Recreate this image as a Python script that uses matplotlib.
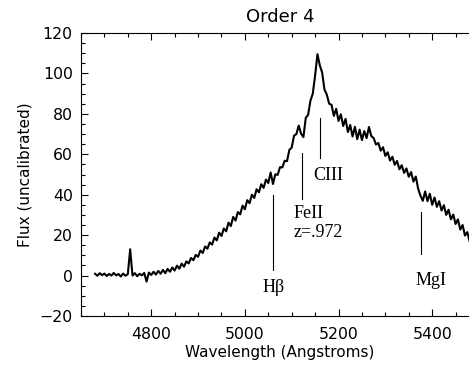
import numpy as np
import matplotlib
matplotlib.use('Agg')
import matplotlib.pyplot as plt

# spectrum, every 5 A
wavelength = np.arange(4680, 5481, 5)
flux = [
    0.9, -0.1, 1.2, 0.2, 1.0, -0.2, 0.8, 0.0, 1.3, 0.1,
    0.8, -0.5, 1.0, -0.1, 0.7, 13.0, 0.0, 1.2, -0.3, 0.9,
    0.1, 1.3, -3.0, 1.5, 0.3, 1.9, 0.5, 2.3, 0.9, 2.8,
    1.2, 3.3, 1.9, 4.0, 2.5, 4.9, 3.4, 5.9, 4.4, 7.0,
    6.0, 8.7, 7.6, 10.2, 9.3, 12.4, 11.2, 14.4, 13.3, 16.4,
    15.3, 18.8, 17.4, 21.2, 19.6, 23.3, 21.9, 26.2, 24.5, 29.0,
    27.2, 31.4, 30.3, 34.6, 32.8, 37.3, 35.8, 40.0, 38.4, 42.7,
    41.2, 45.2, 43.4, 47.5, 45.8, 51.0, 45.3, 50.1, 49.8, 53.6,
    53.5, 56.8, 56.6, 62.2, 63.3, 69.2, 70.0, 74.2, 70.2, 68.5,
    78.0, 79.5, 86.5, 90.0, 99.0, 109.5, 104.0, 100.5, 92.0, 89.5,
    85.0, 84.5, 79.0, 82.5, 76.5, 79.8, 74.0, 77.5, 71.0, 74.5,
    68.8, 73.6, 67.5, 72.2, 67.0, 71.5, 68.0, 73.5, 69.0, 68.0,
    64.8, 65.6, 61.8, 63.5, 59.2, 61.0, 56.9, 58.8, 54.8, 56.7,
    52.6, 54.6, 50.8, 53.0, 48.9, 51.2, 46.5, 49.0, 43.0, 39.5,
    37.0, 41.6, 36.8, 40.5, 35.0, 38.6, 34.0, 36.8, 32.2, 34.8,
    30.0, 32.6, 27.8, 30.2, 25.5, 27.8, 22.8, 25.0, 19.8, 21.5,
    17.0,
]

# line identifications
line_names = ['H\u03b2', 'FeII\nz=.972', 'CIII', 'MgI']
line_wave = [5059, 5122, 5160, 5377]
line_bottom = [3, 38, 58, 10.8]
line_top = [40, 60.4, 77.8, 31.4]
label_x = [5062, 5103, 5147, 5364]
label_y = [-6, 26, 49.6, -2.5]

plt.rcParams['font.family'] = ['DejaVu Sans']

fig = plt.figure(figsize=(4.69, 3.67), dpi=100)
ax = fig.add_axes([81 / 469, 1 - 316 / 367, 398 / 469, 283 / 367])

ax.plot(wavelength, flux, color='black', lw=1.5)

for i in range(len(line_names)):
    ax.plot([line_wave[i], line_wave[i]], [line_bottom[i], line_top[i]],
            color='black', lw=0.8)
    ha = 'center' if i == 0 else 'left'
    ax.text(label_x[i], label_y[i], line_names[i], ha=ha, va='center',
            family='Liberation Serif', fontsize=13, linespacing=1.1)

ax.set_xlim(4650, 5500)
ax.set_ylim(-20, 120)
ax.set_xticks([4800, 5000, 5200, 5400])
ax.set_xticks(np.arange(4650, 5501, 50), minor=True)
ax.set_yticks(np.arange(-20, 121, 20))
ax.set_yticks(np.arange(-20, 121, 5), minor=True)
ax.tick_params(which='both', direction='in', top=True, right=True,
               labelsize=11.3, width=0.8)
ax.tick_params(which='major', length=5)
ax.tick_params(which='minor', length=3)
ax.tick_params(axis='x', pad=8)
ax.tick_params(axis='y', pad=6)
for s in ax.spines.values():
    s.set_linewidth(0.8)

ax.set_title('Order 4', fontsize=13, pad=8)
ax.set_xlabel('Wavelength (Angstroms)', fontsize=11, labelpad=2)
ax.set_ylabel('Flux (uncalibrated)', fontsize=11, labelpad=5)

fig.savefig('out.png', dpi=100)
